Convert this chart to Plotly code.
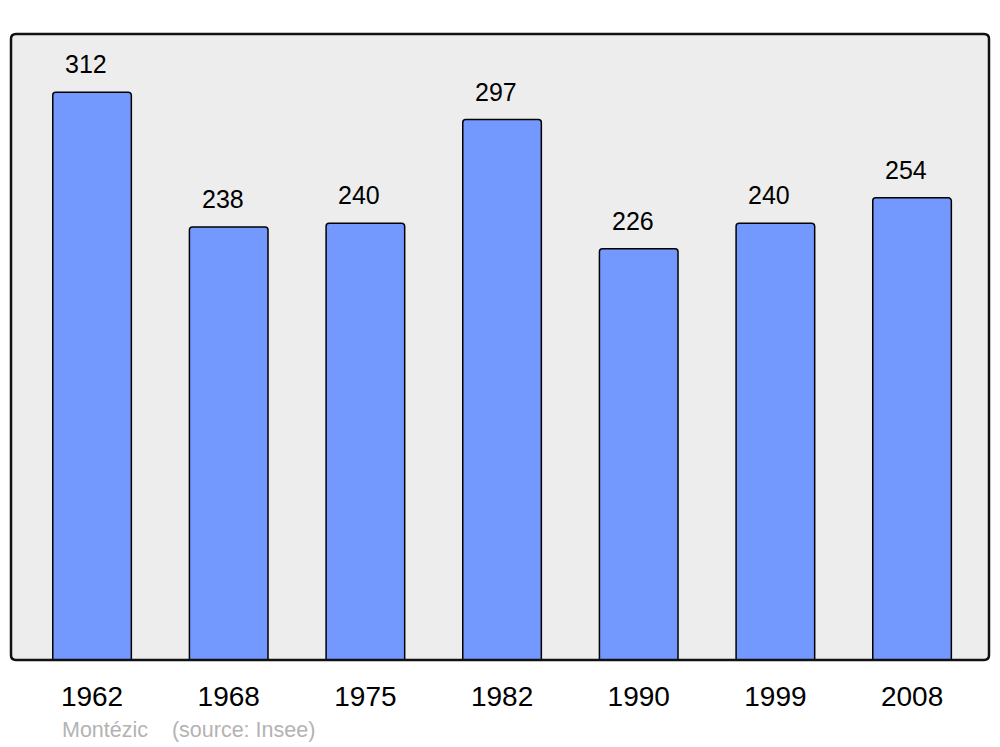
import plotly.graph_objects as go

years = ["1962", "1968", "1975", "1982", "1990", "1999", "2008"]
population = [312, 238, 240, 297, 226, 240, 254]
caption = "Montézic&nbsp;&nbsp;&nbsp;&nbsp;(source: Insee)"

FONT = "Liberation Sans, Arial, sans-serif"

fig = go.Figure()
fig.add_trace(go.Bar(
    x=years, y=population, width=0.575,
    marker=dict(color="#7399ff", line=dict(color="#000000", width=1.5), cornerradius=3),
    hoverinfo="x+y",
))

for i, v in enumerate(population):
    fig.add_annotation(x=i, y=v, text=str(v), showarrow=False, xref="x", yref="y",
                       xshift=-6, yanchor="bottom", yshift=12,
                       font=dict(family=FONT, size=25, color="#000"))

fig.add_annotation(x=0, xref="paper", xshift=49, xanchor="left", y=0, yref="paper",
                   yshift=-70, yanchor="middle", text=caption, showarrow=False,
                   font=dict(family=FONT, size=21.5, color="#b3b3b3"))

W, H = 978.0, 626.0
rx, ry = 5 / W, 5 / H
path = (f"M {rx},0 L {1-rx},0 Q 1,0 1,{ry} L 1,{1-ry} Q 1,1 {1-rx},1 "
        f"L {rx},1 Q 0,1 0,{1-ry} L 0,{ry} Q 0,0 {rx},0 Z")
fig.add_shape(type="path", path=path, xref="paper", yref="paper", layer="below",
              fillcolor="#ededed", line=dict(width=0))
fig.add_shape(type="path", path=path, xref="paper", yref="paper", layer="above",
              fillcolor="rgba(0,0,0,0)", line=dict(color="#111111", width=2.5))

fig.update_layout(
    width=992, height=739,
    margin=dict(l=3, r=11, t=26, b=87),
    paper_bgcolor="#ffffff", plot_bgcolor="#ffffff",
    showlegend=False,
    xaxis=dict(type="category", range=[-0.593, 6.563], showgrid=False, zeroline=False,
               showline=False, ticks="outside", ticklen=11, tickcolor="rgba(0,0,0,0)",
               tickfont=dict(family=FONT, size=28, color="#000")),
    yaxis=dict(range=[0, 344], showgrid=False, zeroline=False, showline=False,
               showticklabels=False, ticks=""),
)

fig.write_html("out.html")
